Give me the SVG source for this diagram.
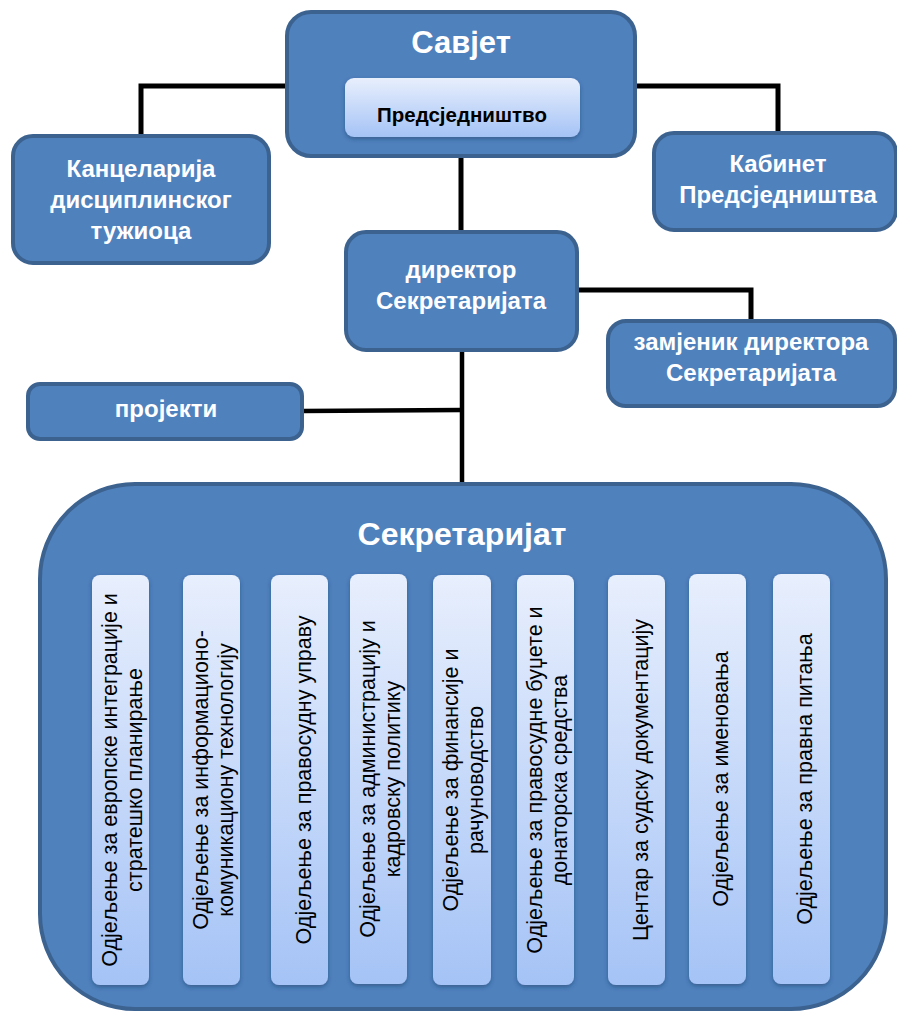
<svg xmlns="http://www.w3.org/2000/svg" width="897" height="1012" viewBox="0 0 897 1012">
<defs>
<linearGradient id="light" x1="0" y1="0" x2="0" y2="1">
<stop offset="0" stop-color="#e8effd"/>
<stop offset="1" stop-color="#a5c3f6"/>
</linearGradient>
<filter id="sh" x="-20%" y="-20%" width="140%" height="140%">
<feDropShadow dx="0" dy="2" stdDeviation="2" flood-color="#1d3557" flood-opacity="0.45"/>
</filter>
<style>
.box{fill:#4f81bd;stroke:#3c6290;stroke-width:4}
.inner{fill:url(#light);filter:url(#sh)}
.wt{font-family:"Liberation Sans",Arial,sans-serif;font-weight:bold;fill:#ffffff;text-anchor:middle}
.bt{font-family:"Liberation Sans",Arial,sans-serif;font-weight:bold;fill:#000000;text-anchor:middle}
.ct{font-family:"Liberation Sans",Arial,sans-serif;font-size:21.5px;fill:#000000;text-anchor:middle}
.con{fill:none;stroke:#000000;stroke-width:5;stroke-linejoin:miter}
</style>
</defs>
<rect width="897" height="1012" fill="#ffffff"/>
<g id="connectors">
<polyline class="con" points="288,86 141,86 141,136"/>
<polyline class="con" points="634,86 778,86 778,133"/>
<polyline class="con" points="461,156 461,232"/>
<polyline class="con" points="576,290 751,290 751,321"/>
<polyline class="con" points="462,350 462,484" style="stroke-width:4.5"/>
<polyline class="con" points="302,411 462,410" style="stroke-width:4.5"/>
</g>
<g id="savjet">
<rect class="box" x="287" y="12" width="348" height="144" rx="24"/>
<text class="wt" x="461" y="53" font-size="31">Савјет</text>
</g>
<g id="predsjednistvo">
<rect class="inner" x="345" y="78" width="235" height="59" rx="9"/>
<text class="bt" x="462" y="122" font-size="20.5">Предсједништво</text>
</g>
<g id="kancelarija">
<rect class="box" x="13" y="136" width="256" height="127" rx="20"/>
<text class="wt" font-size="24"><tspan x="141" y="177">Канцеларија</tspan><tspan x="141" y="208">дисциплинског</tspan><tspan x="141" y="239">тужиоца</tspan></text>
</g>
<g id="kabinet">
<rect class="box" x="654" y="133" width="242" height="97" rx="20"/>
<text class="wt" font-size="24"><tspan x="778" y="172">Кабинет</tspan><tspan x="778" y="203">Предсједништва</tspan></text>
</g>
<g id="direktor">
<rect class="box" x="346" y="232" width="231" height="118" rx="20"/>
<text class="wt" font-size="24"><tspan x="461" y="278">директор</tspan><tspan x="461" y="309">Секретаријата</tspan></text>
</g>
<g id="zamjenik">
<rect class="box" x="608" y="321" width="287" height="85" rx="18"/>
<text class="wt" font-size="24"><tspan x="751" y="350">замјеник директора</tspan><tspan x="751" y="381">Секретаријата</tspan></text>
</g>
<g id="projekti">
<rect class="box" x="28" y="384" width="274" height="55" rx="12"/>
<text class="wt" x="166" y="417" font-size="24">пројекти</text>
</g>
<g id="sekretarijat">
<rect class="box" x="40" y="484" width="846" height="525" rx="95"/>
<text class="wt" x="462" y="545" font-size="32">Секретаријат</text>
</g>
<g id="col1">
<rect class="inner" x="92" y="575" width="57" height="410" rx="8"/>
<text class="ct" transform="translate(117,780) rotate(-90)">Одјељење за европске интеграције и</text>
<text class="ct" transform="translate(142,780) rotate(-90)">стратешко планирање</text>
</g>
<g id="col2">
<rect class="inner" x="183" y="575" width="57" height="410" rx="8"/>
<text class="ct" transform="translate(208,780) rotate(-90)">Одјељење за информационо-</text>
<text class="ct" transform="translate(233,780) rotate(-90)">комуникациону технологију</text>
</g>
<g id="col3">
<rect class="inner" x="271" y="575" width="57" height="410" rx="8"/>
<text class="ct" transform="translate(311,780) rotate(-90)">Одјељење за правосудну управу</text>
</g>
<g id="col4">
<rect class="inner" x="350" y="574" width="57" height="410" rx="8"/>
<text class="ct" transform="translate(375,779) rotate(-90)">Одјељење за администрацију и</text>
<text class="ct" transform="translate(400,779) rotate(-90)">кадровску политику</text>
</g>
<g id="col5">
<rect class="inner" x="433" y="575" width="58" height="410" rx="8"/>
<text class="ct" transform="translate(458,780) rotate(-90)">Одјељење за финансије и</text>
<text class="ct" transform="translate(483,780) rotate(-90)">рачуноводство</text>
</g>
<g id="col6">
<rect class="inner" x="517" y="575" width="57" height="410" rx="8"/>
<text class="ct" transform="translate(542,780) rotate(-90)">Одјељење за правосудне буџете и</text>
<text class="ct" transform="translate(567,780) rotate(-90)">донаторска средства</text>
</g>
<g id="col7">
<rect class="inner" x="608" y="575" width="57" height="410" rx="8"/>
<text class="ct" transform="translate(648,780) rotate(-90)">Центар за судску документацију</text>
</g>
<g id="col8">
<rect class="inner" x="689" y="574" width="57" height="410" rx="8"/>
<text class="ct" transform="translate(728,779) rotate(-90)">Одјељење за именовања</text>
</g>
<g id="col9">
<rect class="inner" x="773" y="574" width="57" height="410" rx="8"/>
<text class="ct" transform="translate(812,779) rotate(-90)">Одјељење за правна питања</text>
</g>
</svg>
